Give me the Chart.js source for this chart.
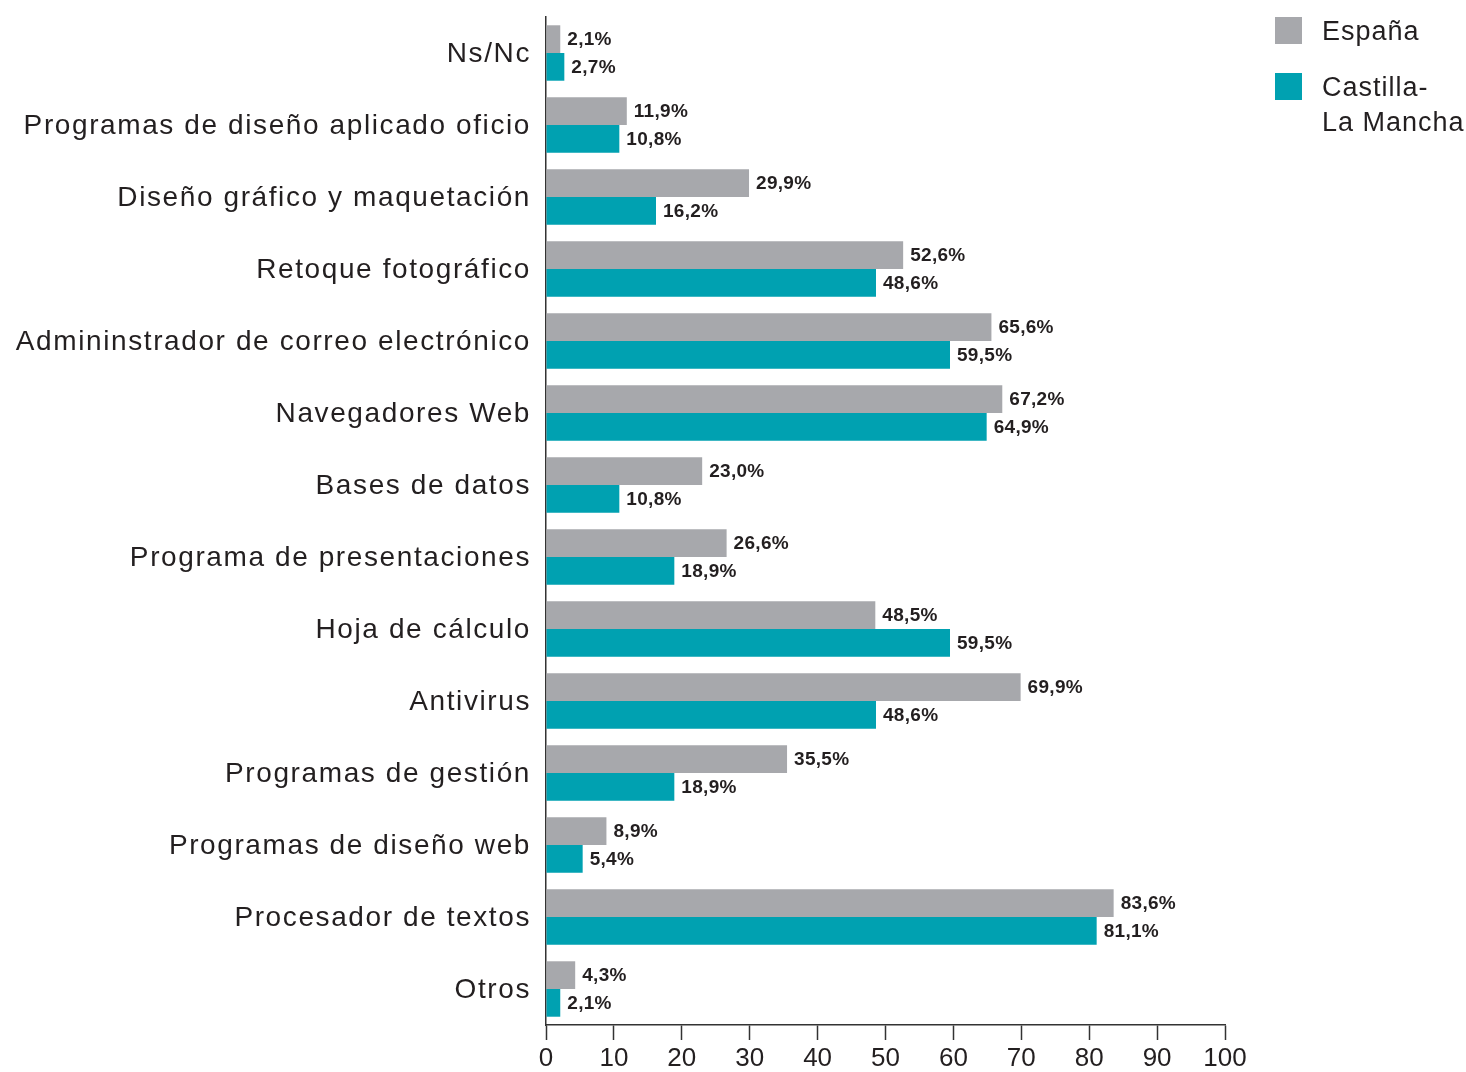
<!DOCTYPE html>
<html><head><meta charset="utf-8">
<script src="https://cdn.jsdelivr.net/npm/chart.js@4"></script>
<style>html,body{margin:0;padding:0;background:#fff}#wrap{width:1466px;height:1072px;position:relative}</style>
</head><body><div id="wrap"><canvas id="c" width="1466" height="1072"></canvas></div>
<script>
const categories = ["Ns/Nc","Programas de diseño aplicado oficio","Diseño gráfico y maquetación","Retoque fotográfico","Admininstrador de correo electrónico","Navegadores Web","Bases de datos","Programa de presentaciones","Hoja de cálculo","Antivirus","Programas de gestión","Programas de diseño web","Procesador de textos","Otros"];
const espana = [2.1,11.9,29.9,52.6,65.6,67.2,23.0,26.6,48.5,69.9,35.5,8.9,83.6,4.3];
const castilla = [2.7,10.8,16.2,48.6,59.5,64.9,10.8,18.9,59.5,48.6,18.9,5.4,81.1,2.1];
const seriesNames = ["España", ["Castilla-","La Mancha"]];
const colors = ["#a7a8ac","#00a1b1"];
const xTicks = [0,10,20,30,40,50,60,70,80,90,100];

const fmt = v => v.toFixed(1).replace('.', ',') + '%';

const labelPlugin = {
  id: 'vals',
  afterDatasetsDraw(chart) {
    const ctx = chart.ctx;
    ctx.save();
    ctx.letterSpacing = '0.3px';
    ctx.font = 'bold 19px "Liberation Sans Narrow", "Liberation Sans", Arial';
    ctx.fillStyle = '#231f20';
    ctx.textAlign = 'left';
    ctx.textBaseline = 'middle';
    chart.data.datasets.forEach((ds, i) => {
      chart.getDatasetMeta(i).data.forEach((bar, j) => {
        ctx.fillText(fmt(ds.data[j]), bar.x + 7, bar.y + 1);
      });
    });
    // category labels, placed through the y scale
    const ys = chart.scales.y;
    ctx.letterSpacing = '1.6px';
    ctx.font = '28px "Liberation Sans", Arial';
    ctx.textAlign = 'right';
    chart.data.labels.forEach((lab, i) => {
      ctx.fillText(lab, ys.right - 15, ys.getPixelForTick(i) + 1);
    });
    ctx.restore();
  }
};

const legendPlugin = {
  id: 'lg',
  afterDraw(chart) {
    const ctx = chart.ctx;
    ctx.save();
    ctx.letterSpacing = '1px';
    ctx.font = '27px "Liberation Sans", Arial';
    ctx.textBaseline = 'middle';
    const x0 = chart.chartArea.right + 50;
    const ys = [17, 73];
    chart.data.datasets.forEach((ds, i) => {
      ctx.fillStyle = ds.backgroundColor;
      ctx.fillRect(x0, ys[i], 27, 27);
      ctx.fillStyle = '#231f20';
      const lines = Array.isArray(seriesNames[i]) ? seriesNames[i] : [seriesNames[i]];
      lines.forEach((t, k) => ctx.fillText(t, x0 + 47, ys[i] + 16 + k * 35));
    });
    ctx.restore();
  }
};

new Chart(document.getElementById('c'), {
  type: 'bar',
  data: {
    labels: categories,
    datasets: [
      { label: 'España', data: espana, backgroundColor: colors[0] },
      { label: 'Castilla-La Mancha', data: castilla, backgroundColor: colors[1] }
    ]
  },
  options: {
    indexAxis: 'y',
    responsive: false,
    animation: false,
    devicePixelRatio: 1,
    layout: { padding: { left: 0, right: 241, top: 17, bottom: 0 } },
    datasets: { bar: { categoryPercentage: 0.77, barPercentage: 1.0, borderWidth: 0 } },
    plugins: { legend: { display: false }, tooltip: { enabled: false } },
    scales: {
      x: {
        min: 0, max: 100,
        afterBuildTicks: s => { s.ticks = xTicks.map(v => ({ value: v })); },
        afterFit: s => { s.height = 47; },
        grid: { drawOnChartArea: false, drawTicks: true, tickLength: 15, tickColor: '#333', tickWidth: 1.5 },
        border: { display: true, color: '#333', width: 1.5 },
        ticks: { padding: 3, color: '#231f20', font: { family: '"Liberation Sans Narrow", "Liberation Sans", Arial', size: 26 }, maxRotation: 0 }
      },
      y: {
        afterFit: s => { s.width = 546; },
        grid: { display: false, drawTicks: false },
        border: { display: true, color: '#333', width: 1.5 },
        ticks: { display: false }
      }
    }
  },
  plugins: [labelPlugin, legendPlugin]
});
</script></body></html>
